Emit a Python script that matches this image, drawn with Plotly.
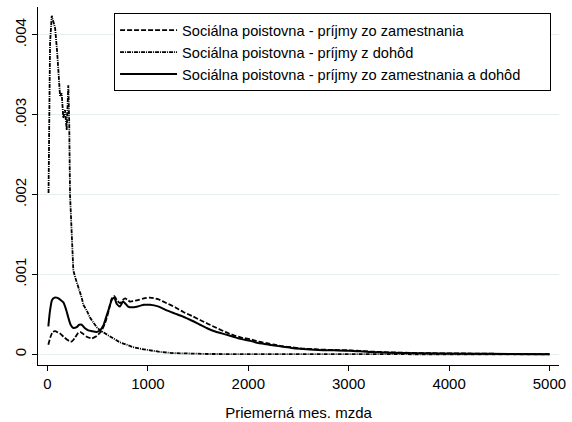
import plotly.graph_objects as go

# --- data ---
x_ticks = [0, 1000, 2000, 3000, 4000, 5000]
y_ticks = [0, 0.001, 0.002, 0.003, 0.004]
y_ticklabels = ["0", ".001", ".002", ".003", ".004"]

names = [
    "Sociálna poistovna - príjmy zo zamestnania",
    "Sociálna poistovna - príjmy z dohôd",
    "Sociálna poistovna - príjmy zo zamestnania a dohôd",
]

zam_x = [8, 30, 52, 75, 108, 125, 160, 200, 224, 241, 270, 300, 324, 350, 390, 440, 490, 523,
         540, 573, 610, 640, 665, 690, 722, 750, 772, 800, 822, 900, 960, 1021, 1100, 1187,
         1270, 1353, 1440, 1519, 1600, 1685, 1770, 1851, 1930, 2017, 2100, 2183, 2260, 2346,
         2430, 2515, 2700, 2850, 3013, 3200, 3411, 3700, 4178, 4600, 5000]
zam_y = [0.00012, 0.00022, 0.00028, 0.00029, 0.00027, 0.00026, 0.00022, 0.00018, 0.00016,
         0.00016, 0.00020, 0.00026, 0.00028, 0.00026, 0.00022, 0.00020, 0.00023, 0.00027,
         0.00030, 0.00039, 0.00055, 0.00070, 0.00073, 0.00068, 0.00064, 0.00068, 0.00070,
         0.00068, 0.00066, 0.00068, 0.00070, 0.00071, 0.00069, 0.00064, 0.00059, 0.00053,
         0.00048, 0.00043, 0.00038, 0.00033, 0.00028, 0.00024, 0.00021, 0.00019, 0.00016,
         0.00014, 0.00012, 0.00010, 0.000088, 0.000075, 0.00006, 0.000055, 0.00005,
         0.000035, 0.000025, 0.000015, 0.00001, 0.000005, 0.000002]

doh_x = [10, 15, 25, 42, 60, 75, 95, 108, 125, 141, 157, 174, 191, 207, 216, 224, 241, 257,
         274, 290, 307, 340, 357, 390, 423, 455, 490, 523, 560, 600, 653, 720, 789, 851, 921,
         1021, 1121, 1250, 1351, 1600, 2000, 3000, 4000, 5000]
doh_y = [0.00202, 0.0030, 0.0039, 0.00424, 0.00415, 0.00409, 0.0038, 0.0036, 0.00323,
         0.00327, 0.00296, 0.00306, 0.00281, 0.00337, 0.0029, 0.0020, 0.00140, 0.00105,
         0.00097, 0.00089, 0.00084, 0.00071, 0.00062, 0.00055, 0.00046, 0.00040, 0.00034,
         0.00030, 0.00027, 0.00024, 0.00020, 0.00015, 0.00012, 0.00009, 0.00007, 0.00005,
         0.00003, 0.000015, 0.00001, 0.000004, 0.000002, 0.000001, 0.0000005, 0.0]

spolu_x = [8, 25, 45, 70, 91, 108, 130, 158, 185, 207, 230, 257, 290, 315, 340, 370, 406, 440,
           490, 523, 556, 580, 606, 640, 665, 690, 722, 752, 772, 800, 822, 900, 960, 1021,
           1100, 1187, 1270, 1353, 1440, 1519, 1600, 1685, 1770, 1851, 1930, 2017, 2100, 2183,
           2260, 2346, 2430, 2515, 2700, 2850, 3013, 3200, 3411, 3700, 4178, 4600, 5000]
spolu_y = [0.00035, 0.00055, 0.00068, 0.00071, 0.00071, 0.00070, 0.00068, 0.00065, 0.00056,
           0.00046, 0.00037, 0.00033, 0.00034, 0.00037, 0.00037, 0.00033, 0.00030, 0.00029,
           0.00028, 0.00030, 0.00036, 0.00045, 0.00055, 0.00068, 0.00071, 0.00063, 0.00060,
           0.00066, 0.00064, 0.00060, 0.00059, 0.00060, 0.00062, 0.00062, 0.00060, 0.00055,
           0.00051, 0.00047, 0.00042, 0.00037, 0.00032, 0.00028, 0.00025, 0.00022, 0.00019,
           0.00017, 0.00014, 0.000125, 0.00011, 0.000095, 0.00008, 0.00007, 0.000055,
           0.00005, 0.000045, 0.00003, 0.00002, 0.000013, 0.000008, 0.000004, 0.000002]

FONT = "Liberation Sans, Arial, sans-serif"
PAD = "\u00a0" * 6  # extra room on the right of the legend box, as in the original

fig = go.Figure()
fig.add_trace(go.Scatter(x=zam_x, y=zam_y, mode="lines", name=names[0],
                         line=dict(color="black", width=1.8, dash="5px,2px",
                                   shape="spline", smoothing=0.6)))
fig.add_trace(go.Scatter(x=doh_x, y=doh_y, mode="lines", name=names[1],
                         line=dict(color="black", width=1.8, dash="4px,1px,1px,1px")))
fig.add_trace(go.Scatter(x=spolu_x, y=spolu_y, mode="lines", name=names[2] + PAD,
                         line=dict(color="black", width=2,
                                   shape="spline", smoothing=0.6)))

fig.update_layout(
    width=572, height=422,
    margin=dict(l=38, r=13, t=7, b=57, autoexpand=False),
    paper_bgcolor="white", plot_bgcolor="white",
    font=dict(family=FONT, size=15, color="black"),
    showlegend=True,
    legend=dict(
        x=0.146, xanchor="left", y=0.983, yanchor="top",
        bordercolor="black", borderwidth=1, bgcolor="white",
        font=dict(family=FONT, size=14.6, color="black"),
        itemwidth=57, tracegroupgap=0,
    ),
    xaxis=dict(
        range=[-95, 5095], tickvals=x_ticks, ticktext=[str(v) for v in x_ticks],
        showgrid=False, zeroline=False, automargin=False,
        showline=True, linecolor="black", linewidth=1,
        ticks="outside", ticklen=5, tickcolor="black",
        tickfont=dict(family=FONT, size=15, color="black"),
        title=dict(text="Priemerná mes. mzda", standoff=16,
                   font=dict(family=FONT, size=15, color="black")),
    ),
    yaxis=dict(
        range=[-0.000134, 0.00435], tickvals=y_ticks, ticktext=y_ticklabels,
        tickangle=-90, automargin=False,
        showgrid=True, gridcolor="#e6eef0", gridwidth=1, zeroline=False,
        showline=True, linecolor="black", linewidth=1,
        ticks="outside", ticklen=5, tickcolor="black",
        tickfont=dict(family=FONT, size=15, color="black"),
    ),
)

fig.write_html("out.html", config={"displayModeBar": False},
               post_script="document.body.style.margin='0px';")
